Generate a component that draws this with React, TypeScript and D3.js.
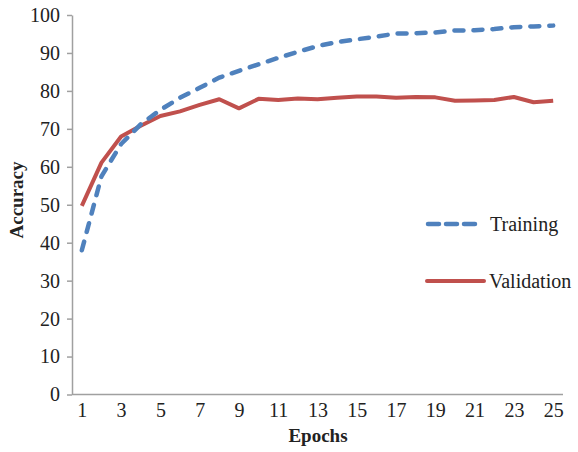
import * as d3 from "d3";
import { useEffect, useRef } from "react";

// epochs 1..25
const epochs = [1, 2, 3, 4, 5, 6, 7, 8, 9, 10, 11, 12, 13, 14, 15, 16, 17, 18, 19, 20, 21, 22, 23, 24, 25];
const training = [38, 57.5, 66, 71.2, 75, 78.2, 80.8, 83.5, 85.3, 87, 88.7, 90.3, 91.8, 92.9, 93.6, 94.3, 95.1, 95.2, 95.4, 95.9, 96, 96.3, 96.8, 97, 97.2];
const validation = [49.7, 61.1, 68, 70.8, 73.4, 74.6, 76.3, 77.8, 75.4, 77.9, 77.6, 78, 77.8, 78.2, 78.5, 78.5, 78.2, 78.4, 78.3, 77.4, 77.5, 77.6, 78.4, 77, 77.4];
const yTicks = [0, 10, 20, 30, 40, 50, 60, 70, 80, 90, 100];

const W = 578;
const H = 452;
const margin = { top: 15, right: 15, bottom: 57.5, left: 72 };
const FONT = "'Liberation Serif', 'Times New Roman', serif";
const FS = 20;
const BLUE = "#4f81bd";
const RED = "#c0504d";
const AXIS = "#a0a0a0";

const App = () => {
    const svgRef = useRef<SVGSVGElement>(null);

    useEffect(() => {
        const svg = d3.select(svgRef.current);
        svg.selectAll("*").remove();

        const x = d3.scalePoint<number>()
            .domain(epochs)
            .range([margin.left, W - margin.right])
            .padding(0.5);
        const y = d3.scaleLinear()
            .domain([0, 100])
            .range([H - margin.bottom, margin.top]);

        // y axis
        const gy = svg.append("g")
            .attr("transform", `translate(${margin.left},0)`)
            .call(d3.axisLeft(y).tickValues(yTicks).tickSize(5).tickPadding(7).tickSizeOuter(0));
        gy.attr("font-family", FONT).attr("font-size", FS);
        gy.select(".domain").attr("stroke", AXIS).attr("stroke-width", 1.5);
        gy.selectAll(".tick line").attr("stroke", AXIS).attr("stroke-width", 1.5);
        gy.selectAll("text").attr("fill", "#222");

        // x axis
        const gx = svg.append("g")
            .attr("transform", `translate(0,${H - margin.bottom})`)
            .call(d3.axisBottom(x).tickSize(0).tickPadding(8)
                .tickFormat(d => (d % 2 === 1 ? String(d) : "")));
        gx.attr("font-family", FONT).attr("font-size", FS);
        gx.select(".domain").attr("stroke", AXIS).attr("stroke-width", 1.5)
            .attr("d", `M${margin.left},0H${W - margin.right}`);
        gx.selectAll("text").attr("fill", "#222");

        const line = d3.line<number>()
            .x((_, i) => x(epochs[i])!)
            .y(d => y(d));

        svg.append("path")
            .datum(validation)
            .attr("d", line)
            .attr("fill", "none")
            .attr("stroke", RED)
            .attr("stroke-width", 4)
            .attr("stroke-linejoin", "round");

        svg.append("path")
            .datum(training)
            .attr("d", line)
            .attr("fill", "none")
            .attr("stroke", BLUE)
            .attr("stroke-width", 4.5)
            .attr("stroke-linecap", "round")
            .attr("stroke-dasharray", "9 10");

        // legend
        const lg = svg.append("g").attr("font-family", FONT).attr("font-size", FS).attr("fill", "#222");
        lg.append("line")
            .attr("x1", 428).attr("x2", 476).attr("y1", 224).attr("y2", 224)
            .attr("stroke", BLUE).attr("stroke-width", 4.5)
            .attr("stroke-linecap", "round").attr("stroke-dasharray", "11 7");
        lg.append("text")
            .attr("x", 490).attr("y", 224).attr("dy", "0.35em")
            .text("Training");
        lg.append("line")
            .attr("x1", 427).attr("x2", 484).attr("y1", 281).attr("y2", 281)
            .attr("stroke", RED).attr("stroke-width", 4).attr("stroke-linecap", "round");
        lg.append("text")
            .attr("x", 489).attr("y", 281).attr("dy", "0.35em")
            .text("Validation");

        // axis titles
        svg.append("text")
            .attr("transform", `translate(23,200) rotate(-90)`)
            .attr("text-anchor", "middle")
            .attr("font-family", FONT).attr("font-size", 19).attr("font-weight", "bold")
            .attr("fill", "#222")
            .text("Accuracy");
        svg.append("text")
            .attr("x", 318).attr("y", 442)
            .attr("text-anchor", "middle")
            .attr("font-family", FONT).attr("font-size", 19).attr("font-weight", "bold")
            .attr("fill", "#222")
            .text("Epochs");
    }, []);

    return (
        <>
            <style>{`body{margin:0}`}</style>
            <svg ref={svgRef} width={W} height={H} style={{ display: "block", background: "#fff" }}></svg>
        </>
    );
};

export default App;
